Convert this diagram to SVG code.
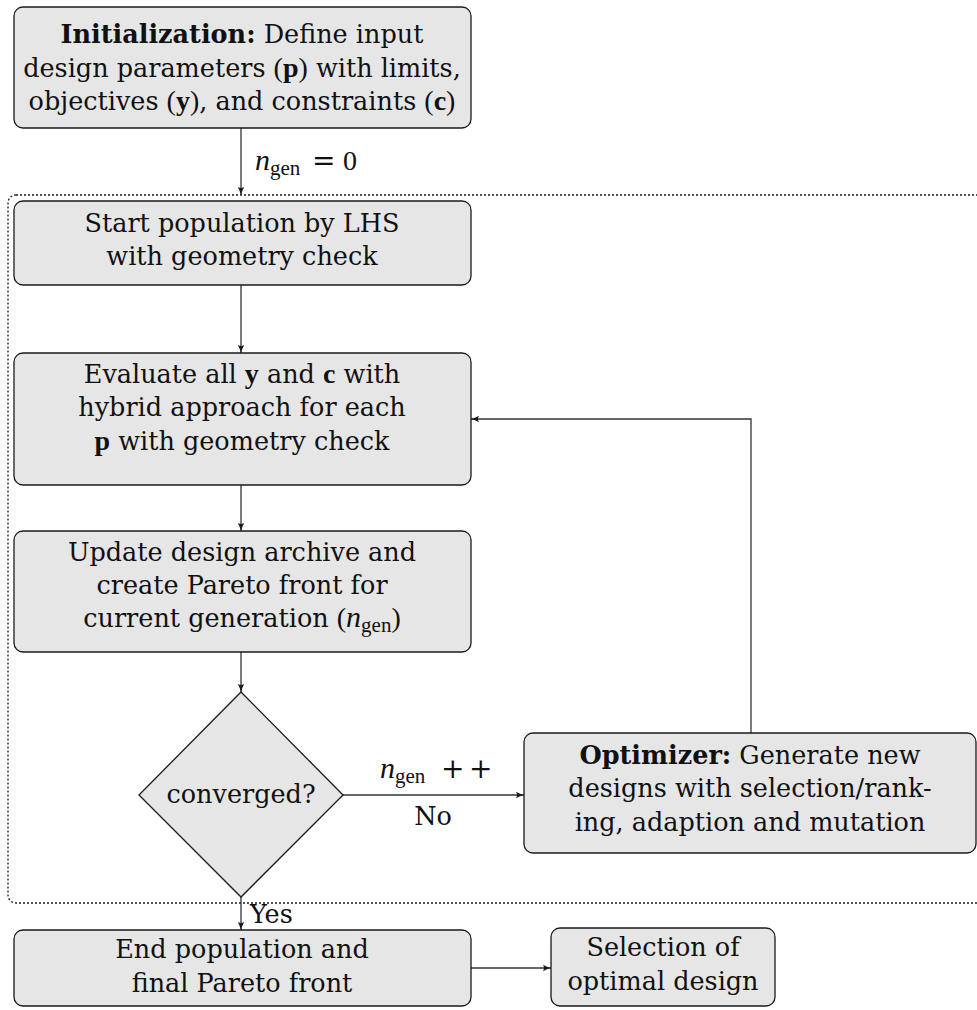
<svg xmlns="http://www.w3.org/2000/svg" width="977" height="1010" viewBox="0 0 977 1010">
  <defs>
    <marker id="arrow" markerWidth="10" markerHeight="8" refX="9" refY="4" orient="auto" markerUnits="userSpaceOnUse">
      <path d="M1,0.8 Q5,3 9,4 Q5,5 1,7.2 Q3,4 1,0.8 Z" fill="#1a1a1a"/>
    </marker>
    <style>
      .box { fill: #e6e6e6; stroke: #1a1a1a; stroke-width: 1.3; }
      .edge { fill: none; stroke: #333; stroke-width: 1.3; }
      .frame { fill: none; stroke: #1a1a1a; stroke-width: 1.3; stroke-dasharray: 2 2; }
      text { font-family: "DejaVu Serif", "Liberation Serif", serif; font-size: 25.5px; fill: #111; }
      .c { text-anchor: middle; }
      .b { font-weight: bold; }
      .mi { font-family: "Liberation Serif", serif; font-style: italic; font-size: 30px; }
      .sub { font-family: "Liberation Serif", serif; font-size: 21px; }
      .mb { font-family: "Liberation Serif", serif; font-weight: bold; font-size: 28px; }
      .mr { font-family: "Liberation Serif", serif; font-size: 28px; }
      .op { font-family: "DejaVu Serif", serif; font-size: 28px; font-weight: 200; }
    </style>
  </defs>

  <!-- loop frame -->
  <rect class="frame" x="8" y="195" width="1000" height="708" rx="8"/>

  <g id="connectors">
    <line class="edge" x1="241" y1="128" x2="241" y2="195" marker-end="url(#arrow)"/>
    <line class="edge" x1="241" y1="285" x2="241" y2="353" marker-end="url(#arrow)"/>
    <line class="edge" x1="241" y1="485" x2="241" y2="531" marker-end="url(#arrow)"/>
    <line class="edge" x1="241" y1="652" x2="241" y2="692" marker-end="url(#arrow)"/>
    <line class="edge" x1="343" y1="795" x2="524" y2="795" marker-end="url(#arrow)"/>
    <polyline class="edge" points="751,733 751,419 471,419" marker-end="url(#arrow)"/>
    <line class="edge" x1="241" y1="897" x2="241" y2="930" marker-end="url(#arrow)"/>
    <line class="edge" x1="471" y1="968" x2="551" y2="968" marker-end="url(#arrow)"/>
    <!-- n_gen = 0 -->
    <text x="255" y="170"><tspan class="mi">n</tspan><tspan class="sub" dy="5">gen</tspan></text>
    <text x="312" y="170" class="op">=</text>
    <text x="343" y="170" class="mr">0</text>
    <!-- n_gen ++ -->
    <text x="380" y="778"><tspan class="mi">n</tspan><tspan class="sub" dy="5">gen</tspan></text>
    <text x="441" y="778" class="op">+</text>
    <text x="469" y="778" class="op">+</text>
    <text x="433" y="825" class="c">No</text>
    <text x="250" y="923">Yes</text>
  </g>

  <g id="init">
    <rect class="box" x="14" y="7" width="457" height="121" rx="9"/>
    <text x="242" y="43" class="c"><tspan class="b">Initialization:</tspan> Define input</text>
    <text x="242" y="77" class="c">design parameters <tspan class="mr">(</tspan><tspan class="mb">p</tspan><tspan class="mr">)</tspan> with limits,</text>
    <text x="242" y="110" class="c">objectives <tspan class="mr">(</tspan><tspan class="mb">y</tspan><tspan class="mr">)</tspan>, and constraints <tspan class="mr">(</tspan><tspan class="mb">c</tspan><tspan class="mr">)</tspan></text>
  </g>

  <g id="start">
    <rect class="box" x="14" y="201" width="457" height="84" rx="9"/>
    <text x="242" y="232" class="c">Start population by LHS</text>
    <text x="242" y="265" class="c">with geometry check</text>
  </g>

  <g id="evaluate">
    <rect class="box" x="14" y="353" width="457" height="132" rx="9"/>
    <text x="242" y="383" class="c">Evaluate all <tspan class="mb">y</tspan> and <tspan class="mb">c</tspan> with</text>
    <text x="242" y="416" class="c">hybrid approach for each</text>
    <text x="242" y="450" class="c"><tspan class="mb">p</tspan> with geometry check</text>
  </g>

  <g id="update">
    <rect class="box" x="14" y="531" width="457" height="121" rx="9"/>
    <text x="242" y="561" class="c">Update design archive and</text>
    <text x="242" y="594" class="c">create Pareto front for</text>
    <text x="242" y="627" class="c">current generation <tspan class="mr">(</tspan><tspan class="mi">n</tspan><tspan class="sub" dy="5">gen</tspan><tspan class="mr" dy="-5">)</tspan></text>
  </g>

  <g id="converged">
    <polygon class="box" points="241,692 343,795 241,897 139,795"/>
    <text x="241" y="803" class="c">converged?</text>
  </g>

  <g id="optimizer">
    <rect class="box" x="524" y="733" width="452" height="120" rx="9"/>
    <text x="750" y="764" class="c"><tspan class="b">Optimizer:</tspan> Generate new</text>
    <text x="750" y="797" class="c">designs with selection/rank-</text>
    <text x="750" y="831" class="c">ing, adaption and mutation</text>
  </g>

  <g id="end">
    <rect class="box" x="14" y="930" width="457" height="76" rx="9"/>
    <text x="242" y="958" class="c">End population and</text>
    <text x="242" y="992" class="c">final Pareto front</text>
  </g>

  <g id="selection">
    <rect class="box" x="551" y="928" width="224" height="78" rx="9"/>
    <text x="663" y="956" class="c">Selection of</text>
    <text x="663" y="990" class="c">optimal design</text>
  </g>
</svg>
